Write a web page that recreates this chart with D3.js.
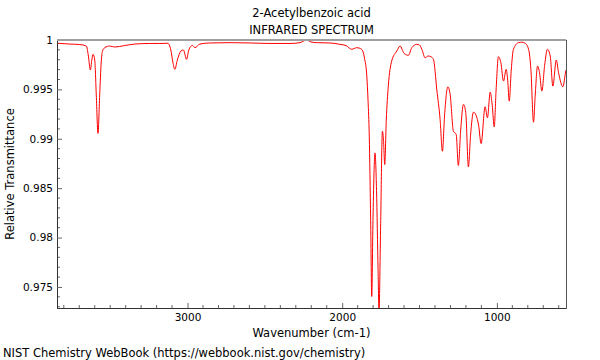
<!DOCTYPE html>
<html>
<head>
  <meta charset="utf-8">
  <title>2-Acetylbenzoic acid IR</title>
  <script src="https://d3js.org/d3.v7.min.js"></script>
  <style>
    body { margin: 0; background: #fff; }
    svg { display: block; font-family: "DejaVu Sans", sans-serif; }
  </style>
</head>
<body>
  <script>
    // spectrum: wavenumber (cm-1) and relative transmittance
    const wavenumber = [3841, 3762, 3697, 3654, 3642, 3628, 3619, 3611, 3600, 3590, 3579, 3568, 3558, 3550, 3535, 3503, 3471, 3406, 3341, 3244,
      3179, 3127, 3108, 3095, 3082, 3066, 3043, 3027, 3006, 2992, 2968, 2953, 2920, 2856, 2726, 2597, 2467, 2338, 2273, 2230,
      2202, 2165, 2079, 2014, 1975, 1939, 1906, 1874, 1856, 1841, 1833, 1825, 1816, 1809, 1801, 1788, 1778, 1768, 1762, 1752,
      1740, 1733, 1725, 1715, 1702, 1680, 1647, 1626, 1600, 1572, 1550, 1518, 1500, 1485, 1464, 1445, 1427, 1410, 1388, 1367,
      1352, 1338, 1317, 1302, 1281, 1263, 1249, 1234, 1216, 1201, 1184, 1170, 1151, 1129, 1118, 1102, 1076, 1061, 1043, 1030,
      1017, 1005, 990, 974, 957, 940, 930, 920, 907, 893, 860, 839, 817, 795, 780, 763, 752, 737, 724, 709,
      691, 673, 655, 638, 616, 601, 573, 558, 553];
    const transmittance = [0.99967, 0.99959, 0.99954, 0.99939, 0.99848, 0.99696, 0.99797, 0.99855, 0.99797, 0.99442, 0.99054, 0.99442, 0.99777, 0.99888, 0.99922, 0.99939, 0.99929, 0.99944, 0.99959, 0.99965,
      0.99965, 0.99967, 0.99899, 0.99777, 0.99703, 0.99797, 0.99888, 0.99899, 0.99804, 0.99899, 0.99946, 0.99922, 0.99959, 0.9997, 0.99973, 0.9997, 0.99965, 0.99965, 0.99973, 1.0,
      0.9998, 0.99973, 0.9997, 0.99956, 0.99944, 0.99906, 0.99922, 0.99906, 0.99817, 0.99635, 0.99391, 0.99026, 0.98174, 0.97404, 0.98174, 0.98857, 0.98479, 0.97667, 0.97241, 0.98073,
      0.99077, 0.98986, 0.98739, 0.99189, 0.99533, 0.99787, 0.99888, 0.99939, 0.99865, 0.99845, 0.99922, 0.99956, 0.99949, 0.99906, 0.9982, 0.99838, 0.99831, 0.99804, 0.99493, 0.99196,
      0.98874, 0.99239, 0.99526, 0.99449, 0.99077, 0.99044, 0.98729, 0.99087, 0.99348, 0.99263, 0.98715, 0.99037, 0.9927, 0.99212, 0.99138, 0.98952, 0.99324, 0.99212, 0.99473, 0.99341,
      0.99121, 0.99493, 0.99831, 0.9977, 0.99584, 0.99703, 0.99594, 0.99381, 0.99696, 0.99906, 0.99973, 0.99978, 0.99967, 0.99906, 0.99703, 0.99168, 0.99442, 0.99736, 0.99668, 0.99483,
      0.99746, 0.99906, 0.99838, 0.99533, 0.99797, 0.99668, 0.99526, 0.99652, 0.99696];

    const xTicks = [3000, 2000, 1000];
    const yTicks = [0.975, 0.98, 0.985, 0.99, 0.995, 1];
    const titleLines = ["2-Acetylbenzoic acid", "INFRARED SPECTRUM"];

    const W = 600, H = 360;
    const margin = { top: 40, right: 34, bottom: 52, left: 57 };
    const width = W - margin.left - margin.right;
    const height = H - margin.top - margin.bottom;

    const svg = d3.select("body").append("svg")
      .attr("width", W)
      .attr("height", H);

    const g = svg.append("g")
      .attr("transform", `translate(${margin.left},${margin.top})`);

    const x = d3.scaleLinear().domain([3844, 553]).range([0, width]);
    const y = d3.scaleLinear().domain([0.97287, 1.0]).range([height, 0]);

    const data = wavenumber.map((w, i) => ({ w, t: transmittance[i] }));

    g.append("clipPath").attr("id", "clip")
      .append("rect").attr("width", width).attr("height", height);

    // spectrum
    const line = d3.line()
      .x(d => x(d.w))
      .y(d => y(d.t))
      .curve(d3.curveMonotoneX);

    g.append("path")
      .datum(data)
      .attr("clip-path", "url(#clip)")
      .attr("fill", "none")
      .attr("stroke", "#ff0000")
      .attr("stroke-width", 1)
      .attr("d", line);

    // minor ticks
    const xMinor = d3.range(600, 3844, 100).filter(v => v % 1000 !== 0);
    const yMinor = d3.range(973, 1000, 1).map(v => v / 1000).filter(v => Math.round(v * 1000) % 5 !== 0);

    const xAxis = g.append("g")
      .attr("transform", `translate(0,${height})`);
    xAxis.selectAll(".minor").data(xMinor).enter().append("line")
      .attr("x1", d => x(d)).attr("x2", d => x(d))
      .attr("y1", 0).attr("y2", -3)
      .attr("stroke", "#666");
    xAxis.call(d3.axisBottom(x).tickValues(xTicks).tickSize(-5).tickPadding(6).tickFormat(d3.format("d")));

    const yAxis = g.append("g");
    yAxis.selectAll(".minor").data(yMinor).enter().append("line")
      .attr("y1", d => y(d)).attr("y2", d => y(d))
      .attr("x1", 0).attr("x2", 3)
      .attr("stroke", "#666");
    yAxis.call(d3.axisLeft(y).tickValues(yTicks).tickSize(-5).tickPadding(4).tickFormat(d => d3.format("")(d)));

    svg.selectAll(".domain").attr("stroke", "#333");
    svg.selectAll(".tick line").attr("stroke", "#666");
    svg.selectAll(".tick text")
      .attr("fill", "#000")
      .style("font-family", "DejaVu Sans")
      .style("font-size", "10.5px");

    // frame: top and right
    g.append("line")
      .attr("x1", 0).attr("x2", width).attr("y1", 0).attr("y2", 0)
      .attr("stroke", "#a0a0a0").attr("stroke-width", 2);
    g.append("line")
      .attr("x1", width + 0.5).attr("x2", width + 0.5).attr("y1", 0).attr("y2", height)
      .attr("stroke", "#555").attr("stroke-width", 1);

    // titles
    svg.selectAll(".title").data(titleLines).enter().append("text")
      .attr("x", margin.left + width / 2)
      .attr("y", (d, i) => 16.5 + i * 17.5)
      .attr("text-anchor", "middle")
      .attr("font-size", "11.5px")
      .text(d => d);

    svg.append("text")
      .attr("x", margin.left + width / 2)
      .attr("y", 336.5)
      .attr("text-anchor", "middle")
      .attr("font-size", "11.5px")
      .text("Wavenumber (cm-1)");

    svg.append("text")
      .attr("transform", `translate(14,${margin.top + height / 2}) rotate(-90)`)
      .attr("text-anchor", "middle")
      .attr("font-size", "11.5px")
      .text("Relative Transmittance");

    svg.append("text")
      .attr("x", 3)
      .attr("y", 356.5)
      .attr("font-size", "11.5px")
      .text("NIST Chemistry WebBook (https://webbook.nist.gov/chemistry)");
  </script>
</body>
</html>
